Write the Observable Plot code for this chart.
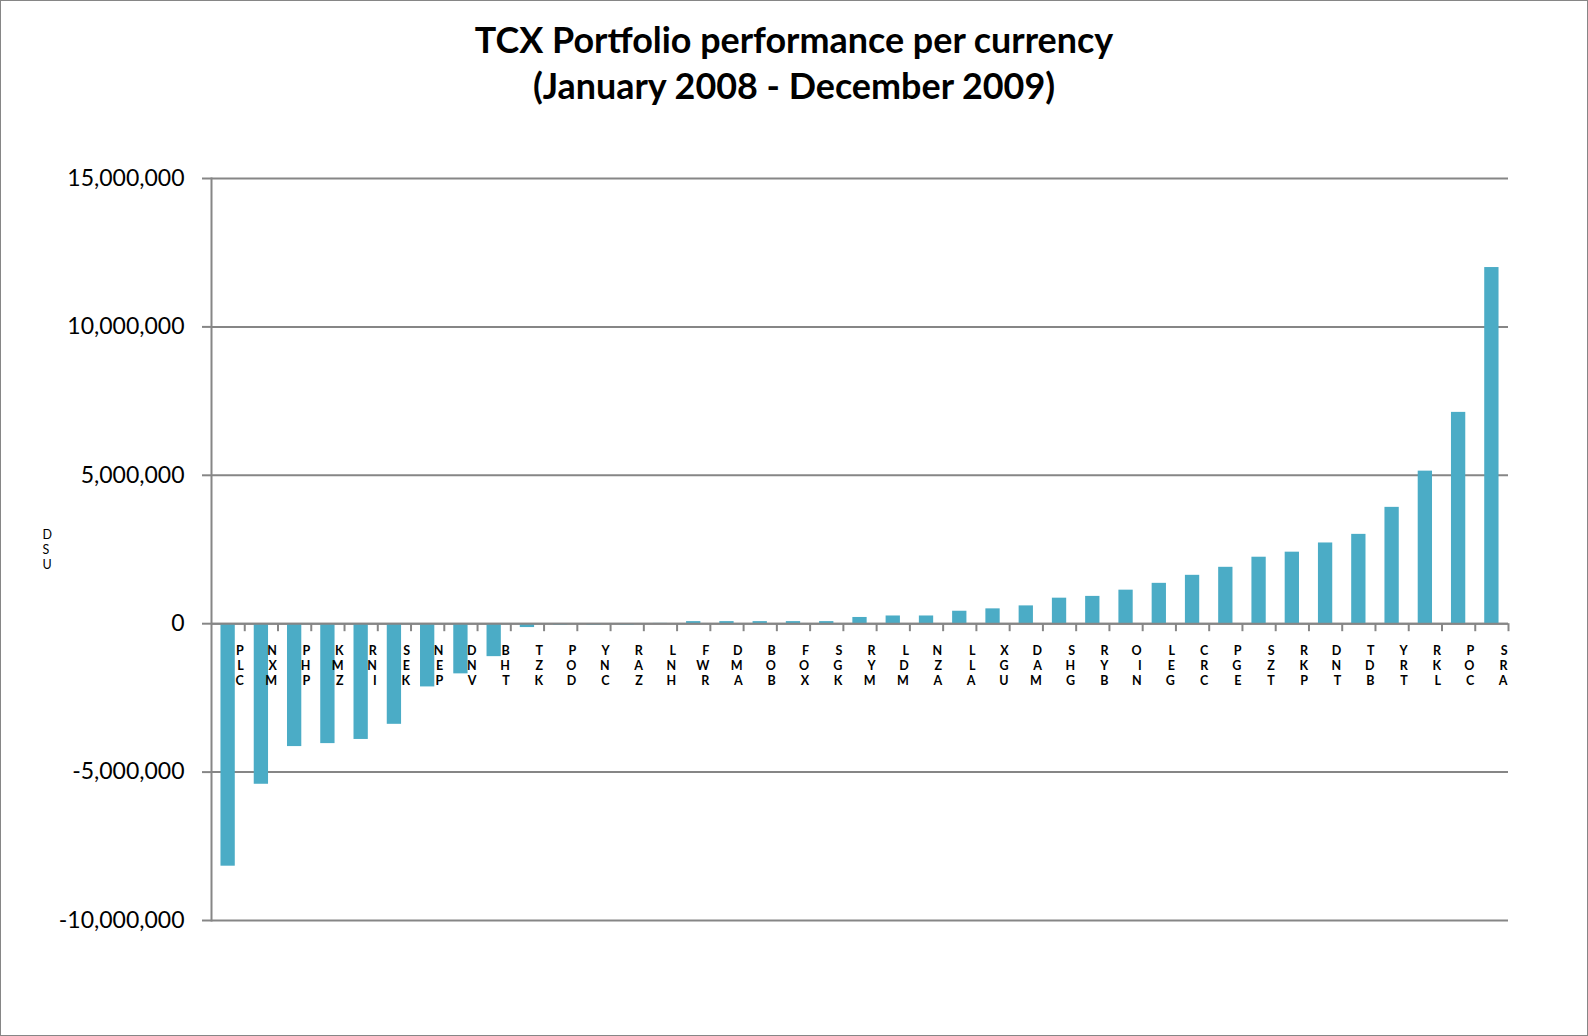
<!DOCTYPE html>
<html>
<head>
<meta charset="utf-8">
<script src="https://cdn.jsdelivr.net/npm/d3@7"></script>
<script src="https://cdn.jsdelivr.net/npm/@observablehq/plot@0.6"></script>
<style>
  html, body { margin: 0; padding: 0; background: #fff; }
  #chart { position: relative; width: 1588px; height: 1036px; overflow: hidden; background: #fff; }
  #frame { position: absolute; left: 0; top: 0; width: 1588px; height: 1036px; box-sizing: border-box; border: 1.5px solid #868686; pointer-events: none; }
  #title { height: 130px; box-sizing: border-box; padding-top: 17px; text-align: center; font-family: Lato, "Open Sans", sans-serif; font-weight: bold; color: #000; line-height: 46px; font-size: 33px; }
  #title div { white-space: nowrap; }
  svg { display: block; }
</style>
</head>
<body>
<div id="chart">
  <div id="title"><div id="t1">TCX Portfolio performance per currency</div><div id="t2">(January 2008 - December 2009)</div></div>
  <div id="frame"></div>
</div>
<script>
// ---- data ----
const currencies = ["CLP","MXN","PHP","ZMK","INR","KES","PEN","VND","THB","KZT","DOP","CNY","ZAR","HNL","RWF","AMD","BOB","XOF","KGS","MYR","MDL","AZN","ALL","UGX","MAD","GHS","BYR","NIO","GEL","CRC","EGP","TZS","PKR","TND","BDT","TRY","LKR","COP","ARS"];
const values = [-8170000,-5410000,-4140000,-4040000,-3900000,-3390000,-2130000,-1690000,-1110000,-130000,-50000,-50000,-50000,10000,70000,70000,70000,70000,70000,210000,260000,260000,420000,500000,600000,860000,920000,1130000,1360000,1630000,1900000,2240000,2410000,2720000,3010000,3920000,5140000,7120000,12000000];
const yTicks = [-10000000, -5000000, 0, 5000000, 10000000, 15000000];
const yAxisLabel = "USD";

const data = currencies.map((c, i) => ({currency: c, value: values[i]}));
const fmt = d => (d < 0 ? "-" : "") + d3.format(",")(Math.abs(d));
const stack = s => s.split("").reverse().join("\n");

// title sizing to match reference width
(function(){
  const t1 = document.getElementById("t1");
  const cv = document.createElement("canvas").getContext("2d");
  cv.font = "bold 100px Lato";
  const w = cv.measureText(t1.textContent).width;
  const fs = 100 * 640 / w;
  document.getElementById("title").style.fontSize = fs.toFixed(1) + "px";
})();

const W = 1588, H = 906, mL = 211, mR = 80, mT = 48, mB = 116;
const step = (W - mL - mR) / currencies.length;
const grey = "#868686";

const chart = Plot.plot({
  width: W, height: H,
  marginTop: mT, marginBottom: mB, marginLeft: mL, marginRight: mR,
  style: {fontFamily: "Lato, 'Open Sans', sans-serif", fontSize: "23px", color: "#000", background: "transparent"},
  x: {domain: currencies, paddingInner: 0.57, paddingOuter: 0.285, round: false, axis: null},
  y: {domain: [-10000000, 15000000], axis: null},
  marks: [
    Plot.gridY(yTicks, {stroke: grey, strokeOpacity: 1, strokeWidth: 2}),
    Plot.barY(data, {x: "currency", y: "value", fill: "#4BACC6"}),
    Plot.ruleY([0], {stroke: grey, strokeWidth: 2}),
    Plot.frame({anchor: "left", stroke: grey, strokeWidth: 2}),
    Plot.axisY({ticks: yTicks, label: null, tickSize: 9, tickPadding: 18, tickFormat: fmt, stroke: grey, strokeWidth: 2, fill: "#000", fontSize: 23}),
    Plot.ruleX(data, {x: "currency", y1: () => 0, y2: () => 0, dx: step / 2, insetBottom: -8, stroke: grey, strokeWidth: 2}),
    Plot.text(data, {x: "currency", y: () => 0, text: d => stack(d.currency), lineAnchor: "top", textAnchor: "end", dx: step / 2 - 1, dy: 21, fontSize: 12.5, fontWeight: "bold", lineHeight: 1.2, fill: "#000"}),
    Plot.text([yAxisLabel], {frameAnchor: "left", dx: -169, text: d => stack(d), lineAnchor: "middle", fontSize: 12.5, lineHeight: 1.2, fill: "#000"})
  ]
});
document.getElementById("chart").insertBefore(chart, document.getElementById("frame"));
</script>
</body>
</html>
